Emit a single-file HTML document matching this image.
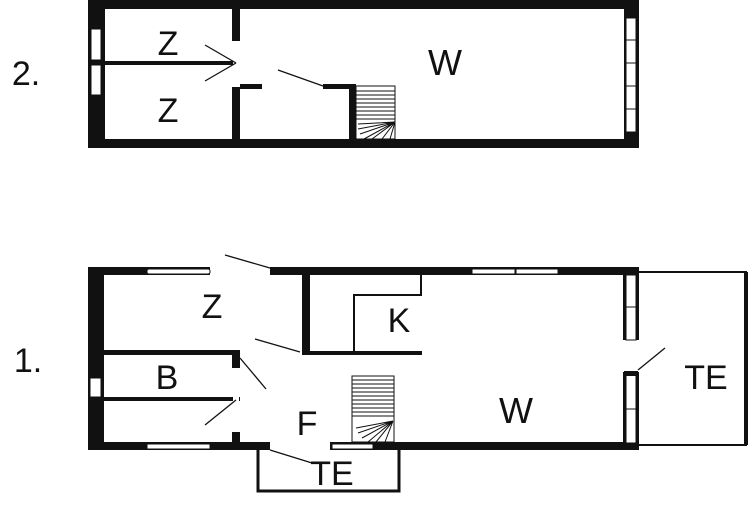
<!DOCTYPE html>
<html><head><style>
html,body{margin:0;padding:0;background:#fff;}
svg text{font-family:"Liberation Sans",sans-serif;fill:#111;}
</style></head><body>
<svg width="750" height="500" viewBox="0 0 750 500" xmlns="http://www.w3.org/2000/svg">
<rect width="750" height="500" fill="#fff"/>
<!-- TOP PLAN -->
<g fill="#111">
<rect x="88" y="0" width="551" height="9"/>
<rect x="88" y="139" width="551" height="9"/>
<rect x="88" y="0" width="17" height="148"/>
<rect x="624" y="0" width="15" height="148"/>
<rect x="88" y="61" width="150" height="4"/>
<rect x="232" y="8" width="8" height="33"/>
<rect x="232" y="87" width="8" height="53"/>
<rect x="240" y="84" width="22" height="5"/>
<rect x="323" y="84" width="33" height="5"/>
<rect x="349" y="84" width="7" height="56"/>
</g>
<g fill="#fff" stroke="#111" stroke-width="1">
<rect x="91" y="29" width="10" height="31"/>
<rect x="91" y="65" width="10" height="30"/>
<rect x="626" y="18" width="10" height="22"/>
<rect x="626" y="40" width="10" height="23"/>
<rect x="626" y="63" width="10" height="23"/>
<rect x="626" y="86" width="10" height="23"/>
<rect x="626" y="109" width="10" height="23"/>
</g>
<rect x="233" y="41" width="6" height="46" fill="#fff"/>
<g stroke="#111" stroke-width="1.3">
<line x1="205" y1="45" x2="236" y2="63"/>
<line x1="205" y1="81" x2="236" y2="63"/>
<line x1="278" y1="70" x2="323" y2="86"/>
</g>
<g stroke="#111" stroke-width="1" fill="none">
<rect x="356" y="86" width="39" height="53"/>
<path d="M356 91H395M356 95H395M356 99H395M356 103H395M356 107H395M356 111H395M356 115H395M356 119H395"/>
<path d="M395 122L358 124M395 122L358 129M395 122L360 134M395 122L364 139M395 122L372 139M395 122L382 139M395 122L390 139"/>
</g>
<text x="168" y="55" font-size="34" text-anchor="middle">Z</text>
<text x="168" y="122" font-size="34" text-anchor="middle">Z</text>
<text x="445" y="75" font-size="36" text-anchor="middle">W</text>
<text x="26" y="85" font-size="34" text-anchor="middle">2.</text>

<!-- BOTTOM PLAN -->
<g fill="#111">
<rect x="88" y="267" width="551" height="8"/>
<rect x="88" y="442" width="551" height="8"/>
<rect x="88" y="267" width="16" height="183"/>
<rect x="623" y="267" width="16" height="183"/>
<rect x="104" y="350" width="136" height="5"/>
<rect x="104" y="397" width="136" height="4"/>
<rect x="232" y="350" width="8" height="18"/>
<rect x="232" y="432" width="8" height="11"/>
<rect x="302" y="273" width="8" height="82"/>
<rect x="302" y="351" width="120" height="4"/>
<rect x="353" y="294" width="2" height="58"/>
<rect x="353" y="294" width="69" height="2"/>
<rect x="420" y="275" width="2" height="21"/>
</g>
<g fill="#fff">
<rect x="210" y="266" width="60" height="10"/>
<rect x="270" y="441" width="60" height="10"/>
<rect x="233" y="368" width="6" height="64"/>
<rect x="622" y="340" width="18" height="32"/>
</g>
<g fill="#fff" stroke="#111" stroke-width="1">
<rect x="147" y="269" width="63" height="5" rx="2"/>
<rect x="472" y="269" width="43" height="5"/>
<rect x="516" y="269" width="42" height="5"/>
<rect x="147" y="444" width="63" height="5"/>
<rect x="332" y="444" width="41" height="5"/>
<rect x="90" y="378" width="11" height="19"/>
<rect x="626" y="275" width="10" height="32"/>
<rect x="626" y="307" width="10" height="33"/>
<rect x="626" y="375" width="10" height="34"/>
<rect x="626" y="409" width="10" height="34"/>
</g>
<rect x="624" y="371" width="14" height="5" fill="#111"/>
<g stroke="#111" stroke-width="1.3">
<line x1="225" y1="255" x2="270" y2="268"/>
<line x1="255" y1="339" x2="300" y2="352"/>
<line x1="240" y1="358" x2="266" y2="389"/>
<line x1="205" y1="425" x2="236" y2="400"/>
<line x1="270" y1="450" x2="312" y2="463"/>
<line x1="665" y1="348" x2="638" y2="370"/>
</g>
<g stroke="#111" stroke-width="1" fill="none">
<rect x="352" y="376" width="42" height="66"/>
<path d="M352 380H394M352 384H394M352 388H394M352 392H394M352 396H394M352 400H394M352 404H394M352 408H394M352 412H394M352 416H394"/>
<path d="M393 421L356 428M393 421L358 433M393 421L362 438M393 421L368 442M393 421L376 442M393 421L385 442"/>
</g>
<path d="M258 450V491H399V450" fill="none" stroke="#111" stroke-width="3"/>
<path d="M639 272H746V445H639" fill="none" stroke="#111" stroke-width="2"/>
<rect x="744" y="272" width="4" height="173" fill="#111"/>
<text x="212" y="318" font-size="34" text-anchor="middle">Z</text>
<text x="399" y="332" font-size="34" text-anchor="middle">K</text>
<text x="167" y="389" font-size="34" text-anchor="middle">B</text>
<text x="307" y="435" font-size="34" text-anchor="middle">F</text>
<text x="516" y="423" font-size="36" text-anchor="middle">W</text>
<text x="332" y="485" font-size="34" text-anchor="middle">TE</text>
<text x="706" y="389" font-size="34" text-anchor="middle">TE</text>
<text x="28" y="372" font-size="34" text-anchor="middle">1.</text>
</svg>
</body></html>
